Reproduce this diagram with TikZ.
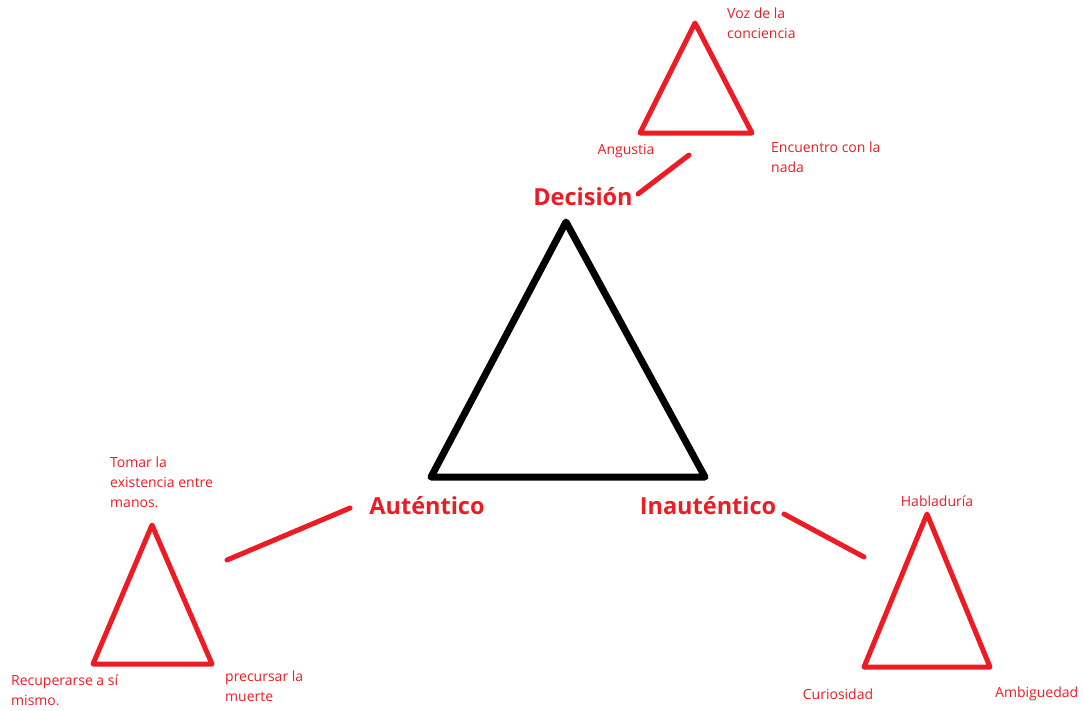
\documentclass[tikz,border=0pt]{standalone}
\usepackage{fontspec}
\setmainfont{Open Sans}
\definecolor{pred}{HTML}{ED1C24}
\begin{document}
\begin{tikzpicture}[x=1pt,y=-1pt,
  small/.style={text=pred,font=\fontsize{14}{20}\selectfont,inner sep=0pt,align=left},
  big/.style={text=pred,font=\fontsize{23.5}{28}\selectfont\bfseries,inner sep=0pt},
  tri/.style={draw=pred,line width=5pt,line join=round},
  btri/.style={draw=black,line width=7pt,line join=round},
  link/.style={draw=pred,line width=5pt,line cap=round}]
\useasboundingbox (0,0) rectangle (1083,710);
% black triangle
\draw[btri] (566,222) coordinate (Ma) -- (431,477) coordinate (Mb) -- (705,477) coordinate (Mc) -- cycle;
% top red triangle
\draw[tri] (695,23) coordinate (Ta) -- (640,133) coordinate (Tb) -- (752,133) coordinate (Tc) -- cycle;
% left red triangle
\draw[tri] (152,525) coordinate (La) -- (93,664) coordinate (Lb) -- (212,664) coordinate (Lc) -- cycle;
% right red triangle
\draw[tri] (927,514) coordinate (Ra) -- (864,667) coordinate (Rb) -- (990,667) coordinate (Rc) -- cycle;
% big labels
\node[big] (dec) at (583,197) {Decisión};
\node[big] (aut) at (427,506) {Auténtico};
\node[big] (inaut) at (708,506) {Inauténtico};
% connector endpoints
\coordinate (d1) at (638,194); \coordinate (d2) at (689,155);
\coordinate (a1) at (350,508); \coordinate (a2) at (227,560);
\coordinate (i1) at (784,514); \coordinate (i2) at (864,557);
\draw[link] (d1) -- (d2);
\draw[link] (a1) -- (a2);
\draw[link] (i1) -- (i2);
% small labels
\node[small,anchor=north west] (voz) at (727,8) {Voz de la\\conciencia};
\node[small] (ang) at (626,151) {Angustia};
\node[small,anchor=north west] (enc) at (771,142) {Encuentro con la\\nada};
\node[small,anchor=north west] (tom) at (110,457) {Tomar la\\existencia entre\\manos.};
\node[small,anchor=north west] (rec) at (11,675) {Recuperarse a sí\\mismo.};
\node[small,anchor=north west] (pre) at (225,671) {precursar la\\muerte};
\node[small] (hab) at (937,501) {Habladuría};
\node[small] (cur) at (838,694) {Curiosidad};
\node[small,anchor=west] (amb) at (995,694) {Ambiguedad};
\end{tikzpicture}
\end{document}
